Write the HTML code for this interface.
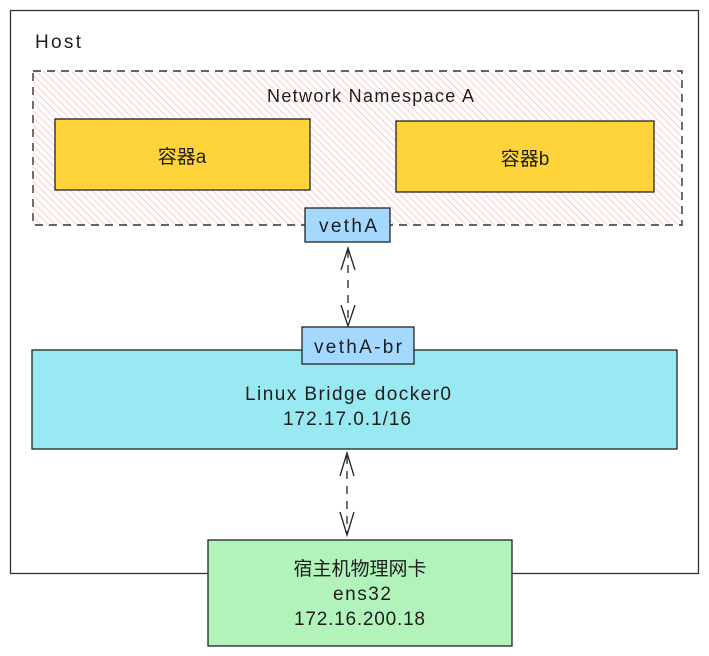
<!DOCTYPE html>
<html><head><meta charset="utf-8"><style>
html,body{margin:0;padding:0;background:#fff;}
svg{display:block;}
text{font-family:"Liberation Sans","Noto Sans CJK SC",sans-serif;fill:#1e1e1e;}
</style></head><body>
<svg width="709" height="656" viewBox="0 0 709 656" xmlns="http://www.w3.org/2000/svg">
<defs>
<pattern id="h" width="5" height="5" patternUnits="userSpaceOnUse" patternTransform="rotate(-45)">
<rect width="5" height="5" fill="#fff"/>
<line x1="0" y1="0" x2="0" y2="5" stroke="#f4b4b4" stroke-width="1.3"/>
</pattern>
</defs>
<rect x="10.5" y="10.5" width="688" height="563" fill="#fff" stroke="#333" stroke-width="1.3"/>
<text x="35" y="48" font-size="19" textLength="46">Host</text>
<rect x="33" y="71" width="649" height="154" fill="url(#h)" stroke="#333" stroke-width="1.4" stroke-dasharray="8 6"/>
<text x="267" y="102" font-size="18" textLength="207">Network Namespace A</text>
<rect x="55" y="119" width="255" height="71" fill="#ffd43b" stroke="#222" stroke-width="1.3"/>
<text x="182" y="163" font-size="19" text-anchor="middle">容器a</text>
<rect x="396" y="121" width="258" height="71" fill="#ffd43b" stroke="#222" stroke-width="1.3"/>
<text x="525" y="165" font-size="19" text-anchor="middle">容器b</text>
<rect x="305" y="208" width="85" height="34" fill="#a5d8ff" stroke="#222" stroke-width="1.3"/>
<text x="319" y="232" font-size="19" textLength="58">vethA</text>
<line x1="348" y1="250" x2="348" y2="324" stroke="#222" stroke-width="1.3" stroke-dasharray="8 7"/>
<path d="M341 270 L348 248 L355 270 M341 305 L348 326 L355 305" fill="none" stroke="#222" stroke-width="1.3"/>
<rect x="32" y="350" width="645" height="99" fill="#99e9f2" stroke="#222" stroke-width="1.3"/>
<rect x="302" y="327" width="112" height="37" fill="#a5d8ff" stroke="#222" stroke-width="1.3"/>
<text x="314" y="353" font-size="19" textLength="88">vethA-br</text>
<text x="245" y="400" font-size="19" textLength="206">Linux Bridge docker0</text>
<text x="283" y="425" font-size="19" textLength="128">172.17.0.1/16</text>
<line x1="347" y1="456" x2="347" y2="533" stroke="#222" stroke-width="1.3" stroke-dasharray="8 7"/>
<path d="M340 476 L347 453 L354 476 M340 512 L347 535 L354 512" fill="none" stroke="#222" stroke-width="1.3"/>
<rect x="208" y="540" width="304" height="106" fill="#b2f2bb" stroke="#222" stroke-width="1.3"/>
<text x="360" y="575" font-size="19" text-anchor="middle">宿主机物理网卡</text>
<text x="333" y="600" font-size="19" textLength="58">ens32</text>
<text x="294" y="625" font-size="19" textLength="131">172.16.200.18</text>
</svg>
</body></html>
